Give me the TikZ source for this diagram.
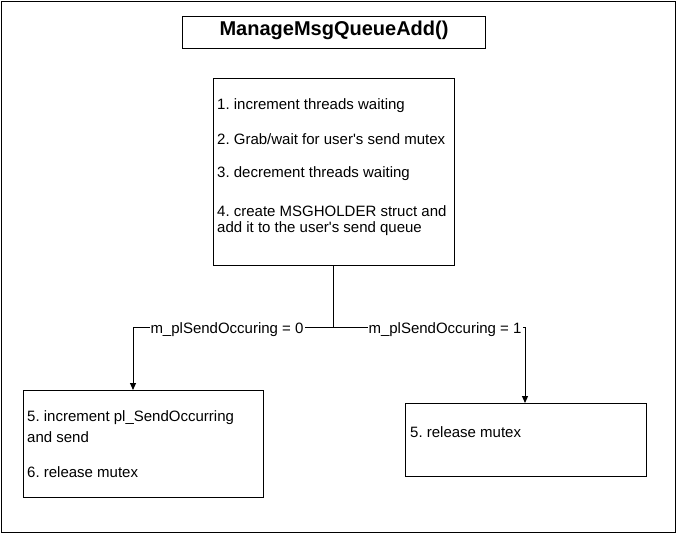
\documentclass[tikz,border=0pt]{standalone}
\usepackage{fontspec}
\setmainfont{Liberation Sans}
\usetikzlibrary{arrows.meta}
\frenchspacing
\newcommand{\q}{\textquotesingle}
\begin{document}
\begin{tikzpicture}[x=1pt,y=-1pt,
  box/.style={draw,line width=1pt,anchor=north west,inner sep=0pt},
  txt/.style={anchor=west,inner sep=0pt,font=\fontsize{15}{17}\selectfont},
  lbl/.style={fill=white,inner sep=1pt,font=\fontsize{15}{17}\selectfont},
  conn/.style={line width=1pt,-{Triangle[length=7pt,width=6pt]}}]
\useasboundingbox (0,0) rectangle (676,533);
\node[box,minimum width=674pt,minimum height=531pt] (frame) at (1,1) {};
\node[box,minimum width=303pt,minimum height=32pt] (title) at (182,16) {};
\node[font=\bfseries\fontsize{20}{23}\selectfont] (titletxt) at (334,30) {ManageMsgQueueAdd()};
\node[box,minimum width=241pt,minimum height=187pt] (main) at (213,78) {};
\node[txt] (m1) at (217,106) {1. increment threads waiting};
\node[txt] (m2) at (217,139) {2. Grab/wait for user\q s send mutex};
\node[txt] (m3) at (217,174) {3. decrement threads waiting};
\node[txt] (m4) at (217,211) {4. create MSGHOLDER struct and};
\node[txt] (m5) at (217,229) {add it to the user\q s send queue};
\node[box,minimum width=240pt,minimum height=107pt] (left) at (23,390) {};
\node[txt] (l1) at (27,418) {5. increment pl\_SendOccurring};
\node[txt] (l2) at (27,437) {and send};
\node[txt] (l3) at (27,472) {6. release mutex};
\node[box,minimum width=241pt,minimum height=73pt] (right) at (405,403) {};
\node[txt] (r1) at (410,432) {5. release mutex};
\coordinate (split) at (333,327);
\draw[line width=1pt] (main.south -| split) -- (split);
\draw[conn] (split) -- (133,327) -- (133,390);
\draw[conn] (split) -- (525,327) -- (525,403);
\node[lbl] (lab0) at (227,329.5) {m\_plSendOccuring = 0};
\node[lbl] (lab1) at (445,329.5) {m\_plSendOccuring = 1};
\end{tikzpicture}
\end{document}
